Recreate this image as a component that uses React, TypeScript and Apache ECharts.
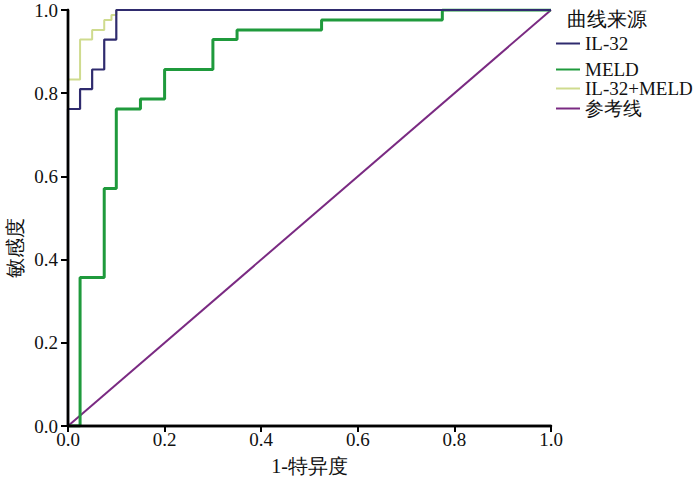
import React, { useEffect, useRef } from "react";
import * as echarts from "echarts";

const seriesNames = ["IL-32", "MELD", "IL-32+MELD", "参考线"];
const seriesColors = ["#2f2b6e", "#1f9a3c", "#cfdb8e", "#7a2a82"];

// ROC step points: 1-specificity (x) and sensitivity (y)
const il32X = [0, 0, 0.025, 0.025, 0.05, 0.05, 0.075, 0.075, 0.1, 0.1, 0.1, 1];
const il32Y = [0, 0.762, 0.762, 0.81, 0.81, 0.857, 0.857, 0.929, 0.929, 0.976, 1, 1];

const meldX = [0, 0.025, 0.025, 0.075, 0.075, 0.1, 0.1, 0.15, 0.15, 0.2, 0.2, 0.3, 0.3, 0.35, 0.35, 0.525, 0.525, 0.775, 0.775, 1];
const meldY = [0, 0, 0.357, 0.357, 0.571, 0.571, 0.762, 0.762, 0.786, 0.786, 0.857, 0.857, 0.929, 0.929, 0.952, 0.952, 0.976, 0.976, 1, 1];

const comboX = [0, 0, 0.025, 0.025, 0.05, 0.05, 0.075, 0.075, 0.09, 0.09, 0.1, 0.1, 1];
const comboY = [0, 0.833, 0.833, 0.929, 0.929, 0.952, 0.952, 0.976, 0.976, 0.988, 0.988, 1, 1];

const refX = [0, 1];
const refY = [0, 1];

const xTicks = [0, 0.2, 0.4, 0.6, 0.8, 1.0];
const yTicks = [0, 0.2, 0.4, 0.6, 0.8, 1.0];

const zip = (xs: number[], ys: number[]) => xs.map((x, i) => [x, ys[i]]);

export default function App() {
  const ref = useRef<HTMLDivElement>(null);
  useEffect(() => {
    if (!ref.current) return;
    const chart = echarts.init(ref.current, undefined, { renderer: "svg" });
    const font = "Liberation Serif";
    const datasets = [zip(il32X, il32Y), zip(meldX, meldY), zip(comboX, comboY), zip(refX, refY)];
    const widths = [2.2, 3, 2, 2];
    const order = [3, 1, 2, 0];
    const legendTops = [34, 60, 79, 99];
    const blackLine = { show: true, lineStyle: { color: "#000", width: 2.4 } };
    const frameAxis = (pos: string) => ({
      type: "value", min: 0, max: 1, position: pos, z: 10,
      axisLine: blackLine, axisTick: { show: false }, axisLabel: { show: false }, splitLine: { show: false },
    });
    chart.setOption({
      animation: false,
      backgroundColor: "#ffffff",
      grid: { left: 68, right: 149, top: 10, bottom: 54 },
      xAxis: [
        {
          type: "value", min: 0, max: 1, interval: 0.2, position: "bottom", z: 10,
          name: "1-特异度", nameLocation: "middle", nameGap: 30,
          nameTextStyle: { fontFamily: font, fontSize: 20, color: "#111" },
          axisLine: blackLine,
          axisTick: { show: true, length: 6, lineStyle: { color: "#000", width: 2 } },
          axisLabel: { fontFamily: font, fontSize: 19, color: "#111", margin: 4, formatter: (v: number) => v.toFixed(1), customValues: xTicks },
          splitLine: { show: false },
        },
        frameAxis("top"),
      ],
      yAxis: [
        {
          type: "value", min: 0, max: 1, interval: 0.2, position: "left", z: 10,
          axisLine: blackLine,
          axisTick: { show: true, length: 7, lineStyle: { color: "#000", width: 2 } },
          axisLabel: { fontFamily: font, fontSize: 19, color: "#111", margin: 10, formatter: (v: number) => v.toFixed(1), customValues: yTicks },
          splitLine: { show: false },
        },
        frameAxis("right"),
      ],
      legend: seriesNames.map((n, i) => ({
        orient: "vertical", left: 556, top: legendTops[i], itemWidth: 24, itemHeight: 2, padding: 0,
        icon: "rect",
        data: [n],
        textStyle: { fontFamily: font, fontSize: 19, lineHeight: 18, color: "#111" },
      })),
      graphic: [
        { type: "text", left: 567, top: 9, style: { text: "曲线来源", fontFamily: font, fontSize: 20, fill: "#111" } },
        { type: "text", x: 15, y: 248, rotation: Math.PI / 2, style: { text: "敏感度", fontFamily: font, fontSize: 20, fill: "#111", align: "center", verticalAlign: "middle" } },
      ],
      series: order.map((i) => ({
        name: seriesNames[i],
        type: "line",
        data: datasets[i],
        showSymbol: false,
        symbol: "none",
        color: seriesColors[i],
        lineStyle: { color: seriesColors[i], width: widths[i] },
        z: 2,
      })),
    });
    return () => chart.dispose();
  }, []);
  return <div ref={ref} style={{ width: 700, height: 481, position: "absolute", left: 0, top: 0 }} />;
}
